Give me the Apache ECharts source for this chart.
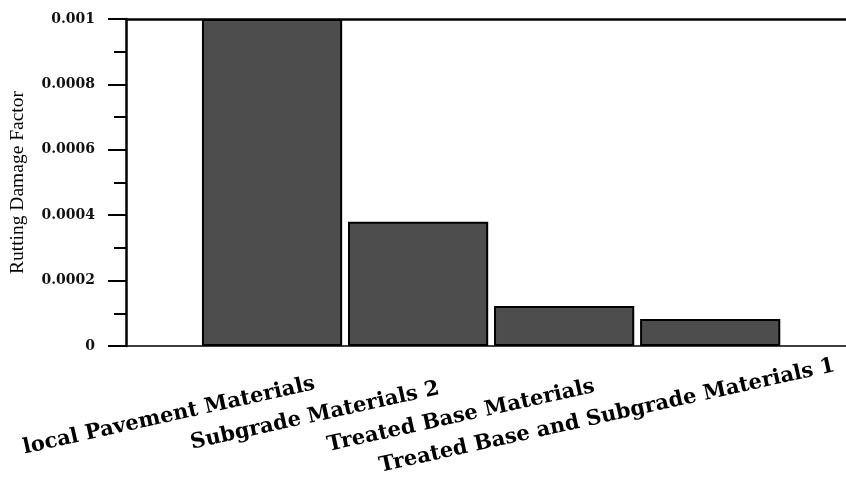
<!DOCTYPE html>
<html>
<head>
<meta charset="utf-8">
<script src="https://cdn.jsdelivr.net/npm/echarts@6/dist/echarts.min.js"></script>
<style>html,body{margin:0;padding:0;background:#fff;}#c{width:846px;height:482px;}</style>
</head>
<body>
<div id="c"></div>
<script>
const categories = ["local Pavement Materials", "Subgrade Materials 2", "Treated Base Materials", "Treated Base and Subgrade Materials 1"];
const damageValues = [0.001, 0.00038, 0.000122, 0.0000826];
const yTicks = [0, 0.0002, 0.0004, 0.0006, 0.0008, 0.001];
const yTitle = "Rutting Damage Factor";

const X_MAX = 4.93;       // axis span in category units (empty space left and right of bars)
const LABEL_SHIFT = 0.706; // labels sit left of their bar centres

const chart = echarts.init(document.getElementById('c'), null, {renderer: 'canvas'});
const barData = damageValues.map((v, i) => [i + 1, v]);
const labelPositions = categories.map((c, i) => i + 1 - LABEL_SHIFT);

chart.setOption({
  animation: false,
  backgroundColor: '#fff',
  grid: {left: 126, right: 0, top: 19, bottom: 136, outerBoundsMode: 'none', containLabel: false},
  xAxis: [{
    type: 'value', min: 0, max: X_MAX, position: 'bottom',
    splitLine: {show: false},
    axisLine: {show: true, onZero: false, lineStyle: {color: '#000', width: 1.5}},
    axisTick: {show: false},
    axisLabel: {
      show: true,
      customValues: labelPositions,
      formatter: (v) => categories[Math.round(v + LABEL_SHIFT) - 1] || '',
      rotate: 12.5, align: 'center', verticalAlign: 'middle', margin: 70,
      fontFamily: 'DejaVu Serif', fontWeight: 'bold', fontSize: 21, color: '#000',
      hideOverlap: false, showMinLabel: true, showMaxLabel: true
    }
  }, {
    type: 'value', min: 0, max: X_MAX, position: 'top',
    splitLine: {show: false},
    axisLine: {show: true, onZero: false, lineStyle: {color: '#000', width: 2.5}},
    axisTick: {show: false}, axisLabel: {show: false}
  }],
  yAxis: {
    type: 'value', min: yTicks[0], max: yTicks[yTicks.length - 1], interval: yTicks[1] - yTicks[0],
    name: yTitle, nameLocation: 'middle', nameGap: 98,
    nameTextStyle: {fontFamily: 'Liberation Serif', fontSize: 19.5, color: '#000'},
    splitLine: {show: false},
    axisLine: {show: true, onZero: false, lineStyle: {color: '#000', width: 2.5}},
    axisTick: {show: true, length: 18, lineStyle: {color: '#000', width: 2}},
    minorTick: {show: true, splitNumber: 2, length: 12, lineStyle: {color: '#000', width: 2}},
    axisLabel: {
      margin: 31,
      formatter: (v) => v === 0 ? '0' : String(+v.toFixed(4)),
      fontFamily: 'DejaVu Serif', fontWeight: 'bold', fontSize: 14, color: '#111'
    }
  },
  series: [{
    type: 'bar', xAxisIndex: 0, yAxisIndex: 0,
    data: barData,
    barWidth: '96%',
    itemStyle: {color: '#4d4d4d', borderColor: '#000', borderWidth: 2},
    emphasis: {disabled: true}
  }]
});
</script>
</body>
</html>
